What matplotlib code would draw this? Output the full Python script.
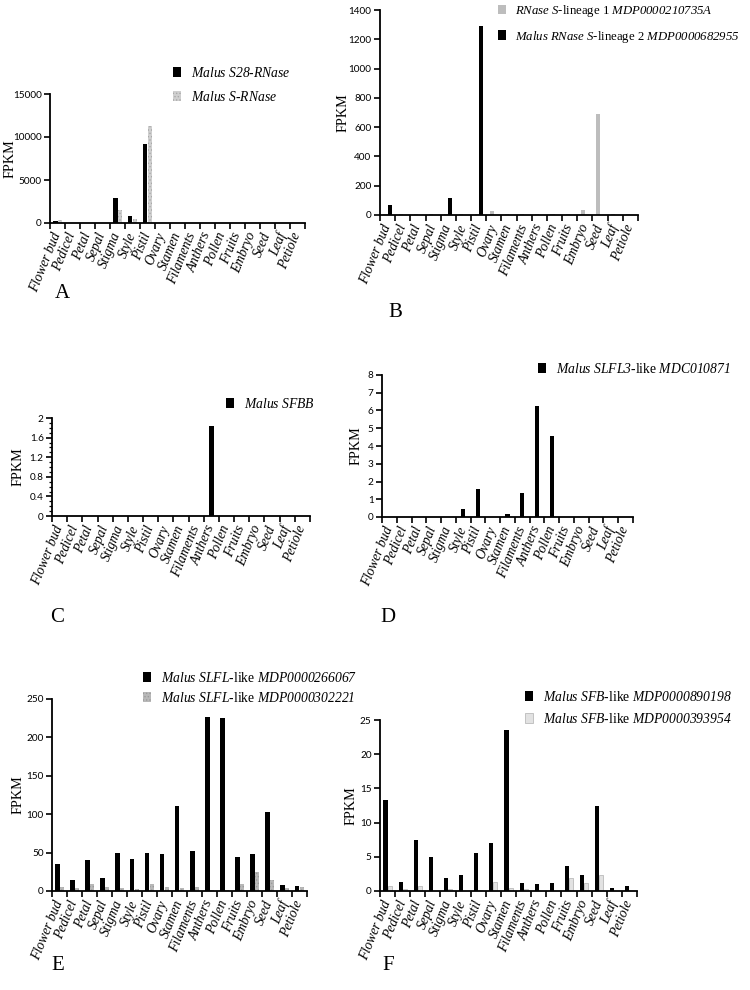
import numpy as np
import matplotlib
matplotlib.use("Agg")
import matplotlib.pyplot as plt
import matplotlib.transforms as mtransforms
from matplotlib.ticker import MultipleLocator, FormatStrFormatter

plt.rcParams['mathtext.fontset'] = 'custom'
plt.rcParams['mathtext.it'] = 'Liberation Serif:italic'
plt.rcParams['mathtext.rm'] = 'Liberation Serif:italic'  # digits in math -> italic
plt.rcParams['hatch.linewidth'] = 0.6

# tissues on the x axis
tissues = ["Flower bud", "Pedicel", "Petal", "Sepal", "Stigma", "Style", "Pistil",
           "Ovary", "Stamen", "Filaments", "Anthers", "Pollen", "Fruits", "Embryo",
           "Seed", "Leaf", "Petiole"]

# A
a_s28 = [270, 20, 30, 20, 2900, 850, 9200, 30, 30, 30, 30, 30, 30, 30, 30, 30, 30]
a_srnase = [380, 20, 30, 20, 1480, 510, 11240, 20, 20, 20, 20, 20, 30, 20, 20, 30, 20]
# B
b_lin1 = [5, 5, 5, 5, 5, 5, 5, 28, 5, 5, 5, 5, 5, 37, 693, 5, 5]
b_lin2 = [68, 3, 3, 3, 114, 3, 1290, 3, 3, 3, 3, 3, 3, 3, 3, 3, 3]
# C
c_sfbb = [0, 0, 0, 0, 0, 0, 0, 0, 0, 0, 1.84, 0, 0, 0, 0, 0, 0]
# D
d_slfl3 = [0.02, 0, 0, 0, 0, 0.47, 1.55, 0, 0.17, 1.33, 6.25, 4.56, 0, 0, 0, 0, 0]
# E
e_slfl_1 = [34.8, 14.8, 40.9, 17.4, 50, 42.2, 49.1, 48.3, 110.4, 52.6, 226, 225.2,
            44.3, 48.3, 103.5, 7.8, 6.5]
e_slfl_2 = [5.2, 4.3, 9.6, 5.7, 4.3, 2.2, 9.0, 5.7, 4.3, 5.7, 1.0, 1.7, 8.7, 24.8,
            14.8, 4.3, 5.7]
# F
f_sfb_1 = [13.3, 1.3, 7.45, 4.9, 1.9, 2.4, 5.5, 7.0, 23.5, 1.2, 1.0, 1.2, 3.7, 2.3,
           12.4, 0.5, 0.8]
f_sfb_2 = [0.8, 0.25, 0.7, 0.05, 0.25, 0.05, 0.1, 1.3, 0.45, 0.25, 0, 0, 1.85, 1.2,
           2.4, 0, 0]

W, H = 750, 990
fig = plt.figure(figsize=(W / 100, H / 100), dpi=100)


def px_axes(l, r, b, t):
    return fig.add_axes([l / W, 1 - b / H, (r - l) / W, (b - t) / H])


def style_axes(ax, ymax, ystep, label_x, minor=None):
    x = np.arange(len(tissues))
    for s in ['top', 'right']:
        ax.spines[s].set_visible(False)
    for s in ['left', 'bottom']:
        ax.spines[s].set_linewidth(1.3)
    ax.set_xlim(0, len(tissues))
    ax.set_ylim(0, ymax)
    ax.set_xticks(x + 0.5)
    ax.set_xticklabels(tissues, rotation=68, ha='right', va='center',
                       rotation_mode='anchor', family='Liberation Serif',
                       style='italic', fontsize=9.8)
    ax.tick_params(axis='x', which='major', length=0, pad=7)
    ax.set_xticks(np.arange(len(tissues) + 1), minor=True)
    ax.tick_params(axis='x', which='minor', length=4, width=1.2, direction='out')
    ax.yaxis.set_major_locator(MultipleLocator(ystep))
    ax.yaxis.set_major_formatter(FormatStrFormatter('%g'))
    if minor:
        ax.yaxis.set_minor_locator(MultipleLocator(minor))
        ax.tick_params(axis='y', which='minor', length=2.5, width=0.9)
    ax.tick_params(axis='y', which='major', length=4, width=1.2, labelsize=7.2,
                   pad=2)
    for t in ax.get_yticklabels():
        t.set_family('Lato')
    ax.set_ylabel("FPKM", family='Liberation Serif', fontsize=10.2)
    # label_x is the right edge of the rotated label, in pixels
    tr = mtransforms.blended_transform_factory(fig.transFigure, ax.transAxes)
    ax.yaxis.set_label_coords(label_x / W, 0.5, transform=tr)
    return x


def legend(ax, handles, labels, xpx, ypx, gap=0.55, size=9.8):
    ax.legend(handles, labels, loc='upper left',
              bbox_to_anchor=(xpx / W, 1 - ypx / H), bbox_transform=fig.transFigure,
              frameon=False, handlelength=0.6, handleheight=0.75, handletextpad=0.7,
              borderpad=0, borderaxespad=0, labelspacing=gap,
              prop={'family': 'Liberation Serif', 'size': size})


bw = 0.27

# A
ax = px_axes(50, 305, 223, 94)
x = style_axes(ax, 15000, 5000, 17)
b1 = ax.bar(x + 0.5 - bw / 2, a_s28, bw, color='black')
b2 = ax.bar(x + 0.5 + bw / 2, a_srnase, bw, color='#cfcfcf', edgecolor='#a8a8a8',
            linewidth=0, hatch='.....')
legend(ax, [b1, b2], [r"$Malus\ S28\text{-}RNase$", r"$Malus\ S\text{-}RNase$"],
       173, 66, gap=0.7)
fig.text(62 / W, 1 - 293 / H, "A", family='Liberation Serif', fontsize=15,
         ha='center', va='center')

# B
ax = px_axes(380, 638, 215, 10)
x = style_axes(ax, 1400, 200, 350)
b1 = ax.bar(x + 0.5 - bw / 2, b_lin1, bw, color='#bdbdbd')
b2 = ax.bar(x + 0.5 + bw / 2, b_lin2, bw, color='black')
legend(ax, [b1, b2], [r"$RNase\ S$-lineage 1 $MDP0000210735A$",
                      r"$Malus\ RNase\ S$-lineage 2 $MDP0000682955$"],
       498, 3, gap=0.75, size=9.2)
fig.text(395 / W, 1 - 313 / H, "B", family='Liberation Serif', fontsize=15,
         ha='center', va='center')

# C
ax = px_axes(52, 310, 516, 418)
x = style_axes(ax, 2, 0.4, 25, minor=0.1)
b1 = ax.bar(x + 0.5, c_sfbb, 0.33, color='black')
legend(ax, [b1], [r"$Malus\ SFBB$"], 226, 397)
fig.text(57 / W, 1 - 617 / H, "C", family='Liberation Serif', fontsize=15,
         ha='center', va='center')

# D
ax = px_axes(382, 633, 517, 375)
x = style_axes(ax, 8, 1, 363)
b1 = ax.bar(x + 0.5, d_slfl3, 0.3, color='black')
legend(ax, [b1], [r"$Malus\ SLFL3$-like $MDC010871$"], 538, 362)
fig.text(388 / W, 1 - 617 / H, "D", family='Liberation Serif', fontsize=15,
         ha='center', va='center')

# E
ax = px_axes(52, 307, 891, 699)
x = style_axes(ax, 250, 50, 25)
b1 = ax.bar(x + 0.5 - bw / 2, e_slfl_1, bw, color='black')
b2 = ax.bar(x + 0.5 + bw / 2, e_slfl_2, bw, color='#b8b8b8', edgecolor='#9a9a9a',
            linewidth=0, hatch='.....')
legend(ax, [b1, b2], [r"$Malus\ SLFL$-like $MDP0000266067$",
                      r"$Malus\ SLFL$-like $MDP0000302221$"],
       143, 671, gap=0.45)
fig.text(58 / W, 1 - 966 / H, "E", family='Liberation Serif', fontsize=15,
         ha='center', va='center')

# F
ax = px_axes(380, 637, 891, 720)
x = style_axes(ax, 25, 5, 358)
b1 = ax.bar(x + 0.5 - bw / 2, f_sfb_1, bw, color='black')
b2 = ax.bar(x + 0.5 + bw / 2, f_sfb_2, bw, color='#e2e2e2', edgecolor='#b0b0b0',
            linewidth=0.5)
legend(ax, [b1, b2], [r"$Malus\ SFB$-like $MDP0000890198$",
                      r"$Malus\ SFB$-like $MDP0000393954$"],
       525, 690, gap=0.6)
fig.text(388 / W, 1 - 966 / H, "F", family='Liberation Serif', fontsize=15,
         ha='center', va='center')

fig.savefig("out.png", dpi=100, facecolor='white')
